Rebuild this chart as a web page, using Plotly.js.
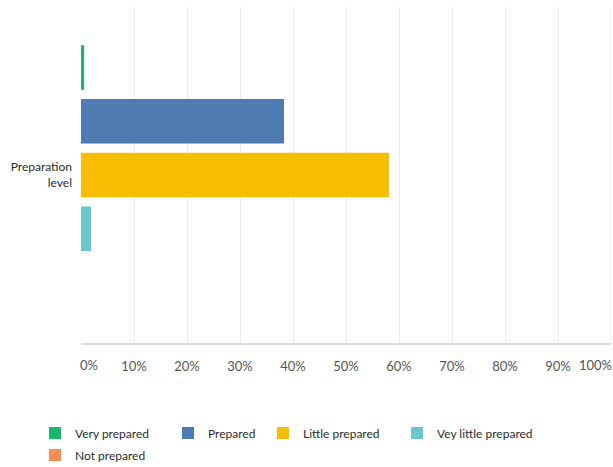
<!DOCTYPE html>
<html>
<head>
<meta charset="utf-8">
<script src="https://cdn.plot.ly/plotly-3.0.1.min.js"></script>
<style>html,body{margin:0;padding:0;background:#fff;}#chart{width:613px;height:467px;}</style>
</head>
<body>
<div id="chart"></div>
<script>
const categories = ['Preparation<br>level'];
const seriesNames = ['Very prepared', 'Prepared', 'Little prepared', 'Vey little prepared', 'Not prepared'];
const seriesValues = [0.6, 38.3, 58.1, 1.9, 0];
const seriesColors = ['#1bb56d', '#4f7bb3', '#f7bd00', '#6bc7cc', '#fb8b55'];
const tickValues = [0, 10, 20, 30, 40, 50, 60, 70, 80, 90, 100];
const tickLabels = ['0%', '10%', '20%', '30%', '40%', '50%', '60%', '70%', '80%', '90%', '100%'];

// legend entry positions (text start px, row center px)
const legendPos = [[75, 433], [208, 433], [303, 433], [437, 433], [75, 455]];
const W = 613, H = 467;

const traces = seriesNames.map((name, i) => ({
  type: 'bar',
  orientation: 'h',
  name: name,
  y: categories,
  x: [seriesValues[i]],
  marker: {color: seriesColors[i]},
  legend: i === 0 ? 'legend' : 'legend' + (i + 1),
  hoverinfo: 'x+name'
}));

const n = tickValues.length;
const tickFont = {family: 'Lato, sans-serif', size: 13, color: '#555'};

// end labels (0% and 100%) are kept inside the chart edges, as in the original
const endLabels = [
  {x: tickValues[0], text: tickLabels[0], xanchor: 'left', xshift: -3},
  {x: tickValues[n - 1], text: tickLabels[n - 1], xanchor: 'right', xshift: 3}
].map(a => Object.assign(a, {
  xref: 'x', yref: 'paper', y: 0, yanchor: 'top', yshift: -12,
  showarrow: false, font: tickFont
}));

const layout = {
  width: W, height: H,
  margin: {l: 81, r: 2, t: 7, b: 124, autoexpand: false},
  paper_bgcolor: '#fff', plot_bgcolor: '#fff',
  font: {family: 'Lato, sans-serif', size: 12, color: '#2b2b2b'},
  barmode: 'group',
  bargap: 0.2,
  bargroupgap: 0.17,
  showlegend: true,
  xaxis: {
    range: [0, 100],
    tickvals: tickValues.slice(1, n - 1),
    ticktext: tickLabels.slice(1, n - 1),
    ticks: '', ticklabelstandoff: 10,
    ticklabeloverflow: 'allow',
    tickfont: tickFont,
    zeroline: false,
    showgrid: true, gridcolor: '#ececec', gridwidth: 1,
    showline: true, linecolor: '#dcdcdc', linewidth: 2,
    fixedrange: true
  },
  yaxis: {
    type: 'category',
    autorange: 'reversed',
    showgrid: false, zeroline: false, showline: false,
    ticks: '', ticklabelstandoff: 8,
    tickfont: {size: 12, color: '#2b2b2b'},
    fixedrange: true
  },
  shapes: [{
    type: 'line', xref: 'x', yref: 'paper',
    x0: tickValues[n - 1], x1: tickValues[n - 1], y0: 0, y1: 1,
    line: {color: '#ececec', width: 1}, layer: 'below'
  }],
  annotations: endLabels
};

legendPos.forEach((p, i) => {
  const key = i === 0 ? 'legend' : 'legend' + (i + 1);
  layout[key] = {
    xref: 'container', yref: 'container',
    x: (p[0] - 40) / W, y: 1 - p[1] / H,
    xanchor: 'left', yanchor: 'middle',
    bgcolor: 'rgba(0,0,0,0)',
    font: {size: 12, color: '#2b2b2b'}
  };
});

Plotly.newPlot('chart', traces, layout, {displayModeBar: false, staticPlot: true});
</script>
</body>
</html>
